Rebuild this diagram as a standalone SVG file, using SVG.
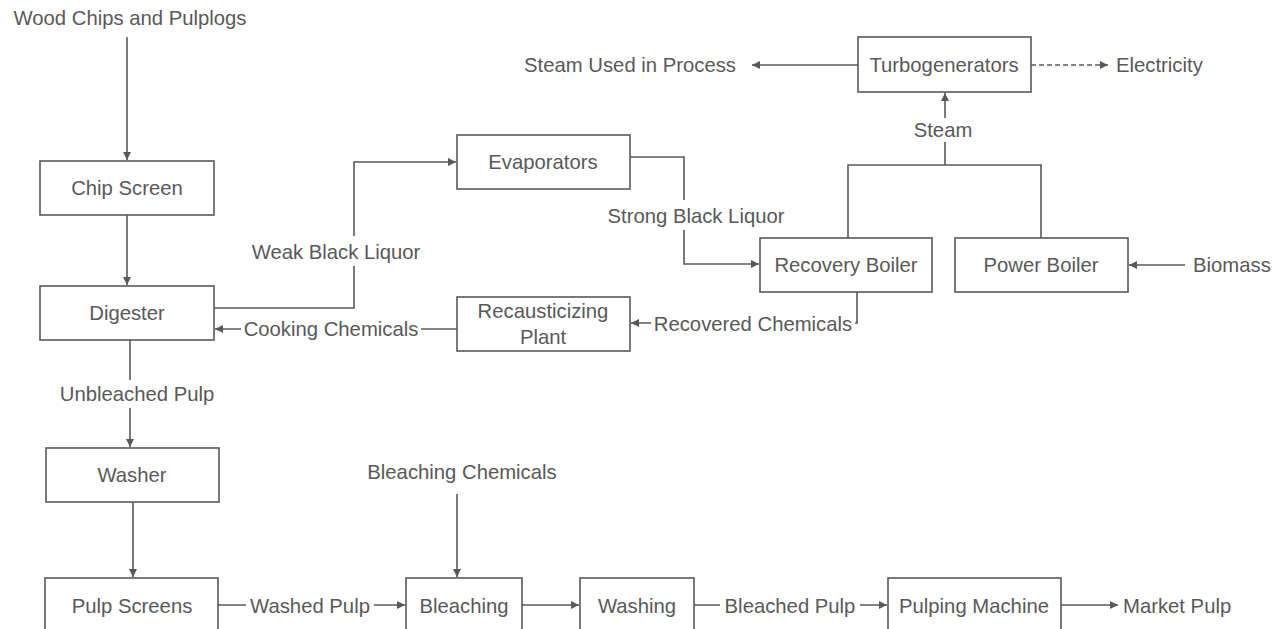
<svg xmlns="http://www.w3.org/2000/svg" width="1279" height="629" viewBox="0 0 1279 629">
<style>
.box{fill:#fff;stroke:#595959;stroke-width:1.6}
.ln{fill:none;stroke:#595959;stroke-width:1.6}
.dash{stroke-dasharray:5 3}
text{font-family:"Liberation Sans",Arial,sans-serif;font-size:20.3px;fill:#595959;text-anchor:middle}
.st{text-anchor:start}
.en{text-anchor:end}
.bg{fill:#fff;stroke:none}
</style>
<defs>
<marker id="ah" markerWidth="10" markerHeight="10" refX="9" refY="5" orient="auto" markerUnits="userSpaceOnUse">
<path d="M1,1 L9,5 L1,9 Z" fill="#595959"/>
</marker>
</defs>
<rect width="1279" height="629" fill="#fff"/>
<g id="connectors">
<path class="ln" d="M127,37 V160" marker-end="url(#ah)"/>
<path class="ln" d="M127,215 V285" marker-end="url(#ah)"/>
<path class="ln" d="M130,340 V447" marker-end="url(#ah)"/>
<path class="ln" d="M133,502 V577" marker-end="url(#ah)"/>
<path class="ln" d="M214,308 H354 V162 H456" marker-end="url(#ah)"/>
<path class="ln" d="M457,329 H215" marker-end="url(#ah)"/>
<path class="ln" d="M630,157 H684 V264 H759" marker-end="url(#ah)"/>
<path class="ln" d="M857,292 V323 H631" marker-end="url(#ah)"/>
<path class="ln" d="M848,238 V165 H1041 V238"/>
<path class="ln" d="M945,165 V93" marker-end="url(#ah)"/>
<path class="ln" d="M858,65 H752" marker-end="url(#ah)"/>
<path class="ln dash" d="M1031,65 H1108" marker-end="url(#ah)"/>
<path class="ln" d="M1185,265 H1129" marker-end="url(#ah)"/>
<path class="ln" d="M457,494 V577" marker-end="url(#ah)"/>
<path class="ln" d="M218,605 H405" marker-end="url(#ah)"/>
<path class="ln" d="M522,605 H579" marker-end="url(#ah)"/>
<path class="ln" d="M694,605 H887" marker-end="url(#ah)"/>
<path class="ln" d="M1061,605 H1118" marker-end="url(#ah)"/>
<rect class="bg" x="246" y="236" width="180" height="30"/>
<text x="336" y="259">Weak Black Liquor</text>
<rect class="bg" x="600" y="200" width="192" height="30"/>
<text x="696" y="223">Strong Black Liquor</text>
<rect class="bg" x="241" y="316" width="180" height="26"/>
<text x="331" y="336">Cooking Chemicals</text>
<rect class="bg" x="651" y="311" width="204" height="26"/>
<text x="753" y="331">Recovered Chemicals</text>
<rect class="bg" x="54" y="380" width="166" height="28"/>
<text x="137" y="401">Unbleached Pulp</text>
<rect class="bg" x="246" y="593" width="128" height="26"/>
<text x="310" y="613">Washed Pulp</text>
<rect class="bg" x="720" y="593" width="140" height="26"/>
<text x="790" y="613">Bleached Pulp</text>
<rect class="bg" x="910" y="118" width="66" height="24"/>
<text x="943" y="137">Steam</text>
</g>
<g id="wood-chips"><text x="130" y="25">Wood Chips and Pulplogs</text></g>
<g id="chip-screen"><rect class="box" x="40" y="161" width="174" height="54"/><text x="127" y="195">Chip Screen</text></g>
<g id="digester"><rect class="box" x="40" y="286" width="174" height="54"/><text x="127" y="320">Digester</text></g>
<g id="washer"><rect class="box" x="46" y="448" width="173" height="54"/><text x="132" y="482">Washer</text></g>
<g id="pulp-screens"><rect class="box" x="45" y="578" width="173" height="60"/><text x="132" y="613">Pulp Screens</text></g>
<g id="evaporators"><rect class="box" x="457" y="135" width="173" height="54"/><text x="543" y="169">Evaporators</text></g>
<g id="recausticizing"><rect class="box" x="457" y="297" width="173" height="54"/><text x="543" y="318">Recausticizing</text><text x="543" y="344">Plant</text></g>
<g id="turbogenerators"><rect class="box" x="858" y="37" width="173" height="55"/><text x="944" y="72">Turbogenerators</text></g>
<g id="steam-used"><text class="en" x="736" y="72">Steam Used in Process</text></g>
<g id="electricity"><text class="st" x="1116" y="72">Electricity</text></g>
<g id="recovery-boiler"><rect class="box" x="760" y="238" width="172" height="54"/><text x="846" y="272">Recovery Boiler</text></g>
<g id="power-boiler"><rect class="box" x="955" y="238" width="173" height="54"/><text x="1041" y="272">Power Boiler</text></g>
<g id="biomass"><text class="st" x="1193" y="272">Biomass</text></g>
<g id="bleaching-chemicals"><text x="462" y="479">Bleaching Chemicals</text></g>
<g id="bleaching"><rect class="box" x="406" y="578" width="116" height="60"/><text x="464" y="613">Bleaching</text></g>
<g id="washing"><rect class="box" x="580" y="578" width="114" height="60"/><text x="637" y="613">Washing</text></g>
<g id="pulping-machine"><rect class="box" x="888" y="578" width="173" height="60"/><text x="974" y="613">Pulping Machine</text></g>
<g id="market-pulp"><text class="st" x="1123" y="613">Market Pulp</text></g>
</svg>
